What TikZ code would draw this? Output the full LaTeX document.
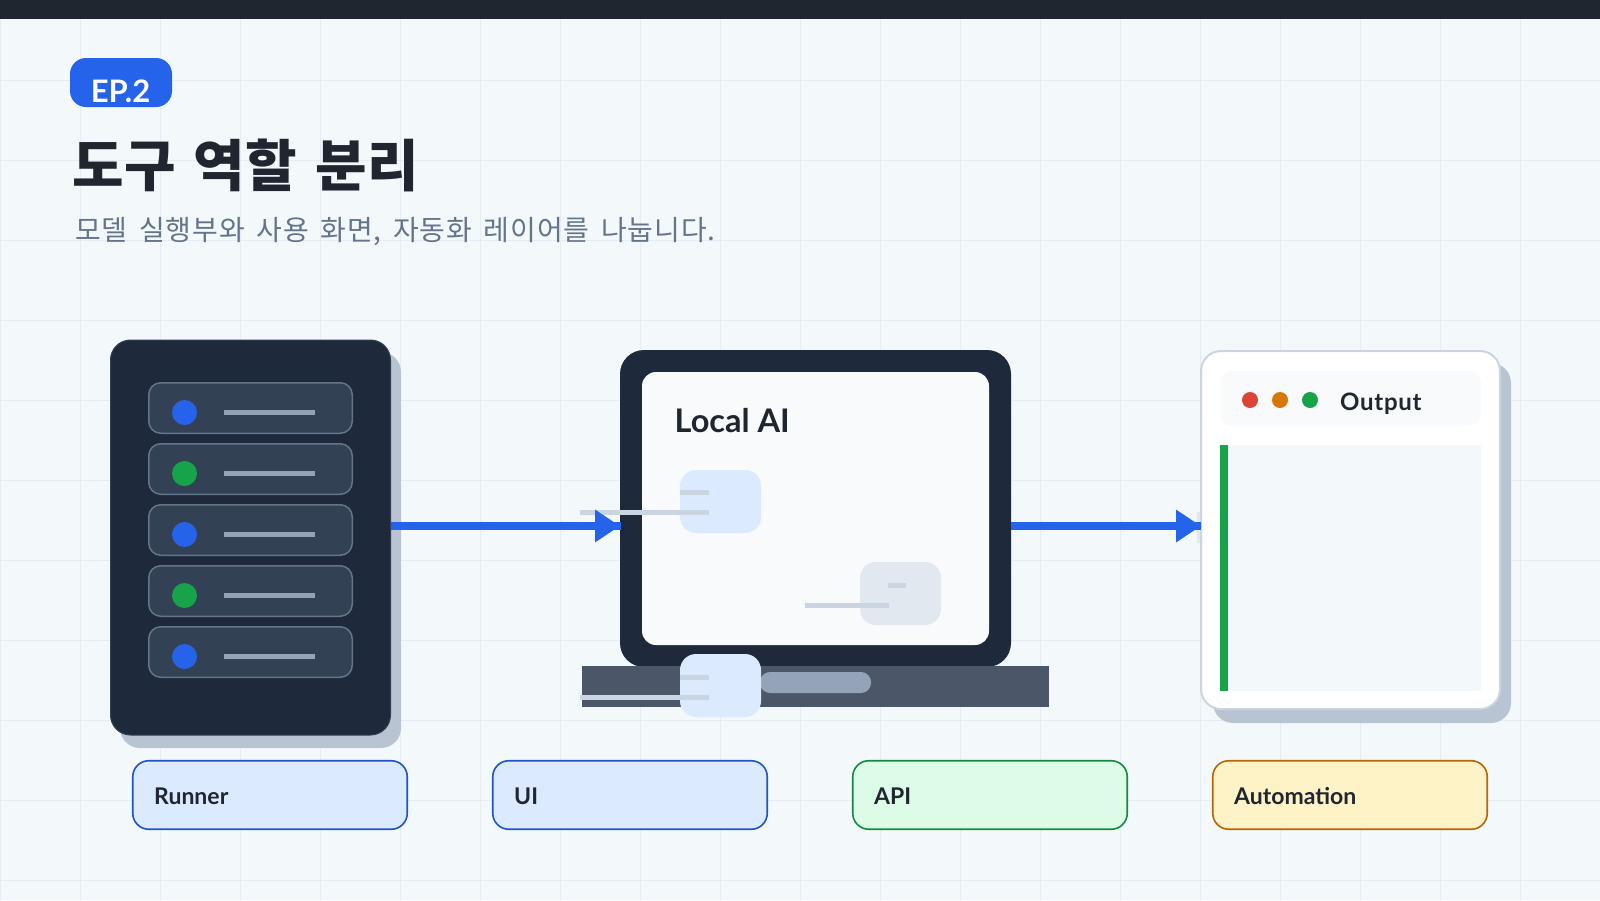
\documentclass[tikz,border=0pt]{standalone}
\usepackage{fontspec}
\usepackage{xcolor}
\usetikzlibrary{positioning,arrows.meta}
\setmainfont{Noto Sans CJK KR}
\newfontfamily\latinfont{Lato}
\newfontfamily\subfont[LetterSpace=3.3,WordSpace=1.6]{Noto Sans CJK KR}
\newfontfamily\titlefont[LetterSpace=0.6,WordSpace=1.4]{Noto Sans CJK KR}

\definecolor{pagebg}{HTML}{F3F8FB}
\definecolor{gridline}{HTML}{E7ECF4}
\definecolor{ink}{HTML}{1F2630}
\definecolor{navy}{HTML}{1E293B}
\definecolor{slate}{HTML}{334155}
\definecolor{slateline}{HTML}{64748B}
\definecolor{steel}{HTML}{94A3B8}
\definecolor{basegray}{HTML}{4B5669}
\definecolor{shadowgray}{HTML}{B8C4D2}
\definecolor{blueA}{HTML}{2563EB}
\definecolor{greenA}{HTML}{16A34A}
\definecolor{orangeA}{HTML}{D97706}
\definecolor{redA}{HTML}{DC4437}
\definecolor{tileblue}{HTML}{DBEAFE}
\definecolor{tilegray}{HTML}{E2E8F0}
\definecolor{tilegreen}{HTML}{DCFCE7}
\definecolor{tileyellow}{HTML}{FEF3C7}
\definecolor{dash}{HTML}{CBD5E1}
\definecolor{paper}{HTML}{F8FAFC}

\tikzset{
  box/.style={rectangle, inner sep=0pt, outer sep=0pt},
  dot/.style={circle, inner sep=0pt, outer sep=0pt},
  slotbox/.style={box, draw=slateline, line width=1.5pt, fill=slate, rounded corners=12pt, minimum width=203.5pt, minimum height=50.5pt},
  tilebox/.style={box, rounded corners=16pt, minimum width=81pt, minimum height=63pt},
  chip/.style={box, line width=1.6pt, rounded corners=16pt, minimum width=274.5pt, minimum height=68.5pt},
  chiptext/.style={anchor=base west, inner sep=0pt, text=ink, font=\latinfont\fontsize{23}{26}\selectfont\bfseries},
  bar/.style={line width=5pt, draw=dash},
  flow/.style={line width=8pt, draw=blueA, -{Triangle[length=25pt,width=31pt]}},
  flowstub/.style={line width=8pt, draw=blueA}
}

\begin{document}
\begin{tikzpicture}[x=1pt,y=-1pt]
  \useasboundingbox (0,0) rectangle (1600,900);
  % Page
  \fill[pagebg] (0,0) rectangle (1600,900);
  \foreach \gx in {0,80,...,1600} {\draw[gridline, line width=1pt] (\gx,0) -- (\gx,900);}
  \foreach \gy in {80,160,...,880} {\draw[gridline, line width=1pt] (0,\gy) -- (1600,\gy);}
  \fill[ink] (0,0) rectangle (1600,19);

  % Heading
  \node[box, fill=blueA, rounded corners=16pt, minimum width=102pt, minimum height=49pt] (badge) at (121,82.5) {};
  \node[anchor=base, inner sep=0pt, text=white, font=\latinfont\fontsize{31}{32}\selectfont\bfseries] (eptext) at (120.5,102.5) {EP.2};
  \node[anchor=base west, inner sep=0pt, text=ink, font=\titlefont\fontsize{56}{60}\selectfont\bfseries] (title) at (72,186.5) {도구 역할 분리};
  \node[anchor=base west, inner sep=0pt, text=slateline, font=\subfont\fontsize{28}{32}\selectfont] (subtitle) at (75,240) {모델 실행부와 사용 화면, 자동화 레이어를 나눕니다.};

  % Server
  \node[box, fill=shadowgray, rounded corners=20pt, minimum width=281pt, minimum height=396pt] (servershadow) at (260.5,550) {};
  \node[box, fill=navy, draw=slate, line width=1pt, rounded corners=20pt, minimum width=280pt, minimum height=395pt] (server) at (250.5,537.5) {};
  \foreach \i/\sy/\col in {1/408/blueA, 2/469/greenA, 3/530/blueA, 4/591/greenA, 5/652/blueA} {
    \node[slotbox] (slot\i) at (250.5,\sy) {};
    \node[dot, fill=\col, minimum size=25pt] (led\i) at (184.5,\sy+4.5) {};
    \coordinate (linea\i) at (224,\sy+4.5);
    \coordinate (lineb\i) at (315,\sy+4.5);
    \draw[line width=5pt, draw=steel] (linea\i) -- (lineb\i);
  }

  % Laptop
  \node[box, fill=navy, rounded corners=24pt, minimum width=391pt, minimum height=317pt] (laptop) at (815.5,508.5) {};
  \node[box, fill=basegray, minimum width=467pt, minimum height=41pt] (base) at (815.5,686.5) {};
  \node[box, fill=paper, rounded corners=14pt, minimum width=347pt, minimum height=273pt] (screen) at (815.5,508.5) {};
  \node[box, fill=steel, rounded corners=10pt, minimum width=111pt, minimum height=21pt] (pill) at (815.5,682.5) {};
  \node[anchor=base west, inner sep=0pt, text=ink, font=\latinfont\fontsize{32.5}{36}\selectfont\bfseries] (localai) at (674.5,432) {Local AI};

  % Tiles with their bars
  \node[tilebox, fill=tileblue] (tilea) at (720.5,501.5) {};
  \node[tilebox, fill=tilegray] (tileb) at (900.5,593.5) {};
  \node[tilebox, fill=tileblue] (tilec) at (720.5,685.5) {};
  \foreach \tx/\ty/\ta/\tb/\la in {680/492/709/580/709, 888/585/906/805/889, 680/677/709/580/709} {
    \coordinate (s) at (\tx,\ty);
    \coordinate (e) at (\ta,\ty);
    \draw[bar] (s) -- (e);
    \coordinate (s) at (\tb,\ty+20.5);
    \coordinate (e) at (\la,\ty+20.5);
    \draw[bar] (s) -- (e);
  }

  % Output window
  \node[box, fill=shadowgray, rounded corners=20pt, minimum width=298pt, minimum height=360pt] (winshadow) at (1362,543) {};
  \node[box, fill=tilegray, minimum width=5pt, minimum height=31pt] (winedge) at (1199,527.5) {};
  \node[box, fill=white, draw=dash, line width=2pt, rounded corners=20pt, minimum width=299pt, minimum height=358pt] (window) at (1350.5,530) {};
  \node[box, fill=paper, rounded corners=12pt, minimum width=261pt, minimum height=55pt] (header) at (1350.5,398.5) {};
  \node[dot, fill=redA, minimum size=16pt] (reddot) at (1250,400) {};
  \node[dot, fill=orangeA, minimum size=16pt] (orangedot) at (1280,400) {};
  \node[dot, fill=greenA, minimum size=16pt] (greendot) at (1310,400) {};
  \node[anchor=base west, inner sep=0pt, text=ink, font=\latinfont\fontsize{24}{26}\selectfont\bfseries\addfontfeature{LetterSpace=3}] (outtext) at (1340,410) {Output};
  \node[box, fill=pagebg, minimum width=261pt, minimum height=246pt] (body) at (1350.5,568) {};
  \node[box, fill=greenA, minimum width=8pt, minimum height=246pt] (greenbar) at (1224,568) {};

  % Flows
  \coordinate (flowy) at (0,526);
  \draw[flow] (server.east |- flowy) -- (laptop.west |- flowy);
  \draw[flowstub] ([xshift=-10pt]laptop.west |- flowy) -- ([xshift=1pt]laptop.west |- flowy);
  \draw[flow] (laptop.east |- flowy) -- (window.west |- flowy);
  \draw[flowstub] ([xshift=-10pt]window.west |- flowy) -- (window.west |- flowy);

  % Chips
  \foreach \j/\cx/\tname/\fillc/\linec in {runner/270/Runner/tileblue/blueA, ui/630/UI/tileblue/blueA, api/990/API/tilegreen/greenA, auto/1350/Automation/tileyellow/orangeA} {
    \node[chip, fill=\fillc, draw=\linec!85!black] (\j) at (\cx,795) {};
    \node[chiptext] (\j text) at (\cx-116,804.5) {\tname};
  }
\end{tikzpicture}
\end{document}
